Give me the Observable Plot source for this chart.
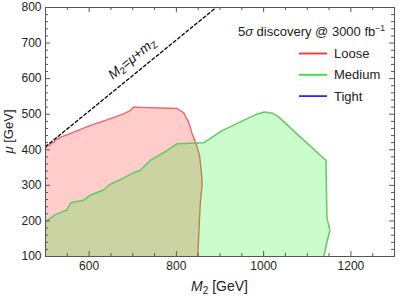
<!DOCTYPE html>
<html><head><meta charset="utf-8">
<script src="https://cdn.jsdelivr.net/npm/d3@7"></script>
<script src="https://cdn.jsdelivr.net/npm/@observablehq/plot@0.6"></script>
<style>
body{margin:0;background:#fff;}
svg{font-family:"Liberation Sans",Arial,sans-serif;}
</style>
</head><body><div id="chart"></div>
<script>
// Axis domains and ticks
const xDomain = [500, 1300];
const yDomain = [100, 800];
const xMajor = [600, 800, 1000, 1200];
const xMinor = [550, 650, 700, 750, 850, 900, 950, 1050, 1100, 1150, 1250];
const yMajor = [200, 300, 400, 500, 600, 700];
const yMinor = [120, 140, 160, 180, 220, 240, 260, 280, 320, 340, 360, 380, 420, 440, 460, 480, 520, 540, 560, 580, 620, 640, 660, 680, 720, 740, 760, 780];
const yLabels = [100, 200, 300, 400, 500, 600, 700, 800];

// Loose region boundary (M2, mu)
const looseM2 = [500, 504, 510, 512, 520, 522, 529, 533, 549, 602, 652, 679, 694, 702, 802, 817, 828, 837, 845, 853, 858, 859, 855, 852, 849];
const looseMu = [403, 412, 412, 419, 421, 428, 431, 435, 442, 468, 489, 501, 510, 520, 516, 504, 478, 442, 418, 385, 330, 300, 253, 180, 100];

// Medium region boundary (M2, mu)
const mediumM2 = [500, 503, 522, 541, 548, 558, 587, 602, 633, 648, 675, 702, 717, 740, 779, 802, 848, 863, 905, 982, 1002, 1020, 1033, 1085, 1143, 1145, 1152, 1146, 1138];
const mediumMu = [196, 201, 217, 227, 230, 251, 258, 272, 287, 303, 318, 336, 342, 370, 398, 417, 419, 420, 454, 499, 506, 503, 494, 435, 370, 210, 173, 145, 100];

// Kinematic line M2 = mu + mZ
const mZ = 91.19;
const kinM2 = [500, 800 + mZ];
const kinMu = [500 - mZ, 800];

const legendNames = ["Loose", "Medium", "Tight"];
const legendColors = ["#ff3030", "#30e030", "#2828ff"];

const toPts = (xs, ys) => xs.map((x, i) => ({x, y: ys[i]}));
const looseLine = toPts(looseM2, looseMu);
const mediumLine = toPts(mediumM2, mediumMu);
const corner = {x: xDomain[0], y: yDomain[0]};
const loosePoly = [corner, ...looseLine];
const mediumPoly = [corner, ...mediumLine];
const kinLine = toPts(kinM2, kinMu);

const W = 398, H = 296, mL = 45, mR = 4, mT = 7, mB = 40;
const iw = W - mL - mR, ih = H - mT - mB;
const axisCol = "#555";

const plot = Plot.plot({
  width: W, height: H,
  marginLeft: mL, marginRight: mR, marginTop: mT, marginBottom: mB,
  style: {fontSize: "12px", fontFamily: "Liberation Sans, Arial, sans-serif", background: "#fff"},
  x: {domain: xDomain},
  y: {domain: yDomain},
  marks: [
    Plot.line(loosePoly, {x: "x", y: "y", fill: "#ff0000", fillOpacity: 0.2, stroke: "none"}),
    Plot.line(looseLine, {x: "x", y: "y", stroke: "rgb(240,100,100)", strokeWidth: 1.4}),
    Plot.line(mediumPoly, {x: "x", y: "y", fill: "#00ee00", fillOpacity: 0.2, stroke: "none"}),
    Plot.line(mediumLine, {x: "x", y: "y", stroke: "rgb(100,200,100)", strokeWidth: 1.5}),
    Plot.line(kinLine, {x: "x", y: "y", stroke: "#000", strokeWidth: 1.3, strokeDasharray: "3,2.5"}),
    Plot.tickX(xMajor, {x: d => d, insetTop: ih - 5, stroke: axisCol}),
    Plot.tickX(xMinor, {x: d => d, insetTop: ih - 3, stroke: axisCol}),
    Plot.tickX(xMajor, {x: d => d, insetBottom: ih - 5, stroke: axisCol}),
    Plot.tickX(xMinor, {x: d => d, insetBottom: ih - 3, stroke: axisCol}),
    Plot.tickY(yMajor, {y: d => d, insetRight: iw - 5, stroke: axisCol}),
    Plot.tickY(yMinor, {y: d => d, insetRight: iw - 3, stroke: axisCol}),
    Plot.tickY(yMajor, {y: d => d, insetLeft: iw - 5, stroke: axisCol}),
    Plot.tickY(yMinor, {y: d => d, insetLeft: iw - 3, stroke: axisCol}),
    Plot.frame({stroke: axisCol, strokeWidth: 1}),
    Plot.axisX({ticks: xMajor, tickSize: 0, tickPadding: 5, label: null, fill: "#222", tickFormat: d => String(d)}),
    Plot.axisY({ticks: yLabels, tickSize: 0, tickPadding: 4, label: null, fill: "#222", tickFormat: d => String(d)})
  ]
});

document.getElementById("chart").appendChild(plot);
const svg = d3.select(plot);
const sx = plot.scale("x"), sy = plot.scale("y");
const cx = (sx.range[0] + sx.range[1]) / 2;
const cy = (sy.range[0] + sy.range[1]) / 2;

// x label
const xl = svg.append("text").attr("x", cx).attr("y", H - 5)
  .attr("text-anchor", "middle").attr("font-size", 14).attr("fill", "#222");
xl.append("tspan").attr("font-style", "italic").text("M");
xl.append("tspan").attr("font-size", 10).attr("dy", 3).text("2");
xl.append("tspan").attr("dy", -3).text(" [GeV]");

// y label
const yl = svg.append("text").attr("transform", `translate(13,${cy}) rotate(-90)`)
  .attr("text-anchor", "middle").attr("font-size", 13).attr("fill", "#222");
yl.append("tspan").attr("font-style", "italic").text("μ");
yl.append("tspan").text(" [GeV]");

// rotated line label
const ang = Math.atan2(sy.apply(kinMu[1]) - sy.apply(kinMu[0]), sx.apply(kinM2[1]) - sx.apply(kinM2[0])) * 180 / Math.PI;
const lx = sx.apply(699), ly = sy.apply(656);
const ll = svg.append("text").attr("transform", `translate(${lx},${ly}) rotate(${ang})`)
  .attr("text-anchor", "middle").attr("dy", "0.35em").attr("font-size", 13.5).attr("fill", "#111");
ll.append("tspan").attr("font-style", "italic").text("M");
ll.append("tspan").attr("font-size", 9.5).attr("dy", 2.5).text("2");
ll.append("tspan").attr("dy", -2.5).text("=");
ll.append("tspan").attr("font-style", "italic").text("μ");
ll.append("tspan").text("+");
ll.append("tspan").attr("font-style", "italic").text("m");
ll.append("tspan").attr("font-size", 9.5).attr("dy", 2.5).text("Z");

// legend
const right = sx.range[1];
const lt = svg.append("text").attr("x", right - 9).attr("y", 35.5)
  .attr("text-anchor", "end").attr("font-size", 13).attr("fill", "#222");
lt.append("tspan").text("5");
lt.append("tspan").attr("font-style", "italic").text("σ");
lt.append("tspan").text(" discovery @ 3000 fb");
lt.append("tspan").attr("font-size", 8.5).attr("dy", -5).text("−1");

legendNames.forEach((name, i) => {
  const yy = 53.5 + i * 21.3;
  svg.append("line").attr("x1", right - 95).attr("x2", right - 67)
    .attr("y1", yy).attr("y2", yy).attr("stroke", legendColors[i]).attr("stroke-width", 1.8);
  svg.append("text").attr("x", right - 60).attr("y", yy + 4.6)
    .attr("text-anchor", "start").attr("font-size", 13).attr("fill", "#222").text(name);
});
</script>
</body></html>
